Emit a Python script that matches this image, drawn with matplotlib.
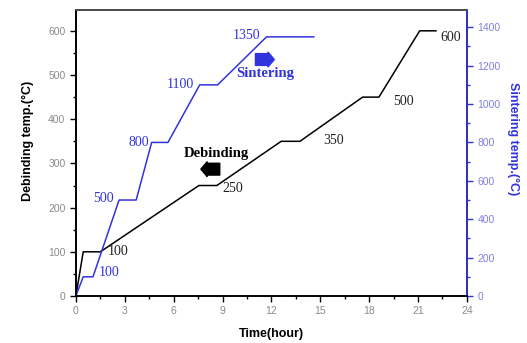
import matplotlib
matplotlib.use("Agg")
import matplotlib.pyplot as plt
from matplotlib.ticker import MultipleLocator

# debinding schedule (left axis)
deb_time = [0, 0.45, 1.5, 7.55, 8.65, 12.6, 13.75, 17.6, 18.6, 21.1, 22.1]
deb_temp = [0, 100, 100, 250, 250, 350, 350, 450, 450, 600, 600]
deb_labels = ["100", "250", "350", "500", "600"]
deb_label_pos = [(1.95, 100), (9.0, 243), (15.2, 352), (19.5, 440), (22.4, 585)]

# sintering schedule (right axis)
sin_time = [0, 0.45, 1.05, 2.65, 3.7, 4.65, 5.65, 7.6, 8.7, 11.7, 14.6]
sin_temp = [0, 100, 100, 500, 500, 800, 800, 1100, 1100, 1350, 1350]
sin_labels = ["100", "500", "800", "1100", "1350"]
sin_label_pos = [(1.4, 125), (1.05, 510), (3.2, 800), (5.6, 1100), (9.6, 1355)]

grey = "#8a8a8a"
blue = "#3333dd"

fig = plt.figure(figsize=(5.27, 3.43), dpi=100)
ax = fig.add_axes([0.144, 0.137, 0.742, 0.835])
ax2 = ax.twinx()

ax.plot(deb_time, deb_temp, color="black", lw=1.1)
ax2.plot(sin_time, sin_temp, color=blue, lw=1.1)

ax.set_xlim(0, 24)
ax.set_ylim(0, 648)
ax2.set_ylim(0, 1492)

ax.xaxis.set_major_locator(MultipleLocator(3))
ax.xaxis.set_minor_locator(MultipleLocator(1.5))
ax.yaxis.set_major_locator(MultipleLocator(100))
ax.yaxis.set_minor_locator(MultipleLocator(50))
ax2.yaxis.set_major_locator(MultipleLocator(200))
ax2.yaxis.set_minor_locator(MultipleLocator(100))

for a in (ax, ax2):
    for s in a.spines.values():
        s.set_linewidth(1.2)
ax2.spines["right"].set_color(blue)
ax2.spines["top"].set_color("#555555")

ax.tick_params(which="major", direction="out", length=4, width=1,
               labelsize=7.5, labelcolor=grey)
ax.tick_params(which="minor", direction="out", length=2, width=1)
ax2.tick_params(which="major", direction="out", length=4, width=1,
                labelsize=7.5, labelcolor="#8080e0", color=blue)
ax2.tick_params(which="minor", direction="out", length=2, width=1, color=blue)
for lab in ax.get_xticklabels() + ax.get_yticklabels() + ax2.get_yticklabels():
    lab.set_family("Liberation Sans")

ax.set_xlabel("Time(hour)", fontsize=9, fontweight="bold", family="Liberation Sans")
ax.xaxis.set_label_coords(0.5, -0.11)
fig.text(0.053, 0.59, "Debinding temp.(°C)", rotation=90, ha="center", va="center",
         fontsize=9, fontweight="bold", family="Liberation Sans")
fig.text(0.973, 0.595, "Sintering temp.(°C)", rotation=270, ha="center", va="center",
         fontsize=9, fontweight="bold", family="Liberation Sans", color=blue)

for txt, (x, y) in zip(deb_labels, deb_label_pos):
    ax.text(x, y, txt, fontsize=10, family="Liberation Serif", color="#222222",
            va="center")
for txt, (x, y) in zip(sin_labels, sin_label_pos):
    ax2.text(x, y, txt, fontsize=10, family="Liberation Serif", color=blue,
             va="center")

ax.text(6.6, 322, "Debinding", fontsize=10.5, fontweight="bold",
        family="Liberation Serif", va="center")
ax.annotate("", xy=(7.5, 287), xytext=(9.0, 287),
            arrowprops=dict(arrowstyle="simple,head_width=1.05,head_length=0.45,tail_width=0.85",
                            color="black"))
ax2.text(9.85, 1160, "Sintering", fontsize=10.5, fontweight="bold",
         family="Liberation Serif", va="center", color=blue)
ax2.annotate("", xy=(12.35, 1232), xytext=(10.85, 1232),
             arrowprops=dict(arrowstyle="simple,head_width=1.05,head_length=0.45,tail_width=0.85",
                             color=blue))

fig.savefig("out.png", dpi=100)
